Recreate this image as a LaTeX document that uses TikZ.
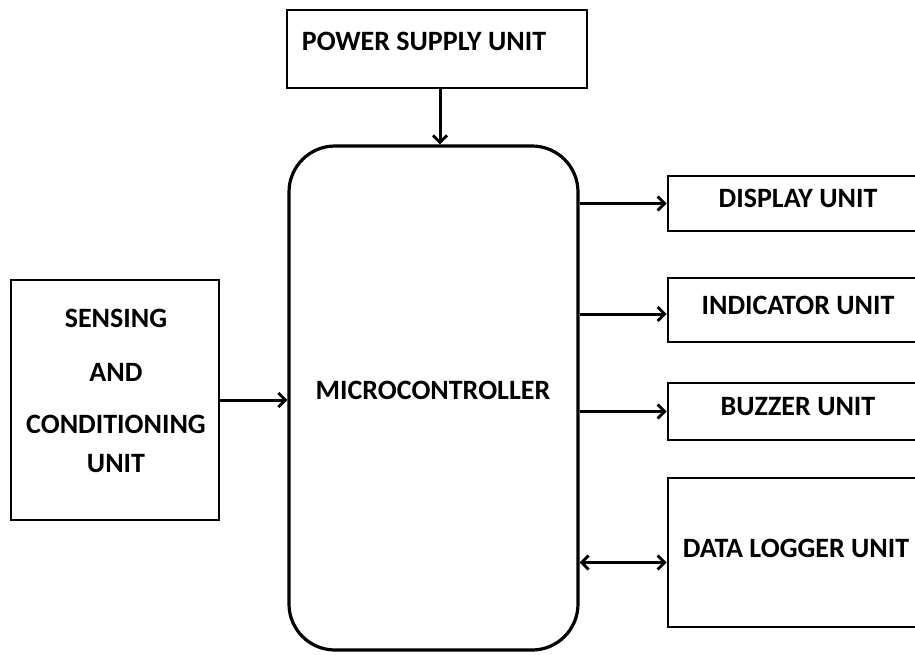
\documentclass[tikz,border=0pt]{standalone}
\usepackage{fontspec}
\setmainfont{Carlito}
\usetikzlibrary{arrows.meta,calc}
\begin{document}
\begin{tikzpicture}[x=1pt,y=-1pt,
  box/.style={draw=black,line width=2.9pt,fill=white,inner sep=0pt},
  lbl/.style={font=\bfseries\fontsize{28}{32}\selectfont,inner sep=0pt},
  arr/.style={line width=3pt,-{Straight Barb[length=7pt,width=14pt,line width=2.8pt]}},
  darr/.style={line width=3pt,{Straight Barb[length=7pt,width=14pt,line width=2.8pt]}-{Straight Barb[length=7pt,width=14pt,line width=2.8pt]}}]
\useasboundingbox (0,0) rectangle (915,654);
\clip (0,0) rectangle (915,654);
% boxes
\node[box,minimum width=300pt,minimum height=78pt] (psu) at (437,49) {};
\node[box,line width=3.2pt,rounded corners=46pt,minimum width=289pt,minimum height=504pt] (mcu) at (433.5,398) {};
\node[box,minimum width=267pt,minimum height=55pt] (disp) at (801.5,203.5) {};
\node[box,minimum width=267pt,minimum height=64pt] (ind) at (801.5,310) {};
\node[box,minimum width=267pt,minimum height=57pt] (buz) at (801.5,411.5) {};
\node[box,minimum width=267pt,minimum height=149pt] (dl) at (801.5,552.5) {};
\node[box,minimum width=208pt,minimum height=240pt] (sen) at (115,400) {};
% labels
\node[lbl] (tpsu) at (424,41) {POWER SUPPLY UNIT};
\node[lbl] (tmcu) at (433,390) {MICROCONTROLLER};
\node[lbl] (tdisp) at (798,198) {DISPLAY UNIT};
\node[lbl] (tind) at (798,305) {INDICATOR UNIT};
\node[lbl] (tbuz) at (798,407) {BUZZER UNIT};
\node[lbl] (tdl) at (796,548) {DATA LOGGER UNIT};
\node[lbl] (ts1) at (116,318) {SENSING};
\node[lbl] (ts2) at (116,372) {AND};
\node[lbl] (ts3) at (116,424) {CONDITIONING};
\node[lbl] (ts4) at (116,464) {UNIT};
% connectors
\coordinate (psuout) at ($(psu.south)+(3,0)$);
\draw[arr] (psuout) -- (psuout |- mcu.north);
\draw[arr] (mcu.east |- disp.west) -- (disp.west);
\coordinate (indin) at ($(ind.west)+(0,4)$);
\draw[arr] (mcu.east |- indin) -- (indin);
\draw[arr] (mcu.east |- buz.west) -- (buz.west);
\coordinate (dlin) at ($(dl.west)+(0,10)$);
\draw[darr] (mcu.east |- dlin) -- (dlin);
\draw[arr] (sen.east) -- (sen.east -| mcu.west);
\end{tikzpicture}
\end{document}
